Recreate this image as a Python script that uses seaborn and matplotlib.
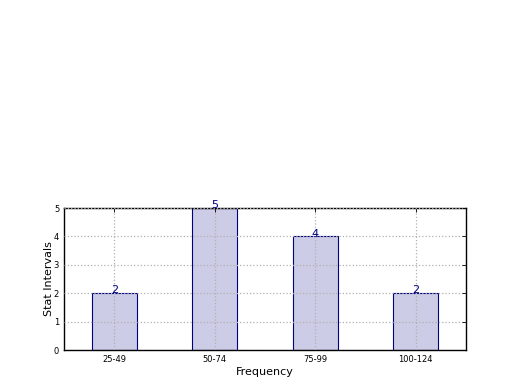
import matplotlib
matplotlib.use("Agg")
import matplotlib.pyplot as plt
import seaborn as sns
import pandas as pd

categories = ["25-49", "50-74", "75-99", "100-124"]
values = [2, 5, 4, 2]

sns.set_style("white")
plt.rcParams['font.family'] = ['DejaVu Sans']
plt.rcParams['text.color'] = 'black'
plt.rcParams['axes.labelcolor'] = 'black'
plt.rcParams['xtick.color'] = 'black'
plt.rcParams['ytick.color'] = 'black'

df = pd.DataFrame({"interval": categories, "count": values})

fig = plt.figure(figsize=(5.2, 3.9), dpi=100)
ax = fig.add_axes([64/520, 40/390, 402/520, 142/390])

sns.barplot(data=df, x="interval", y="count", ax=ax, color="#ccccE6",
            edgecolor="navy", linewidth=0.8, width=0.45, saturation=1)

for i, v in enumerate(values):
    ax.text(i, v + 0.1, str(v), ha="center", va="center", color="navy", fontsize=8)

ax.set_xlim(-0.5, 3.5)
ax.set_ylim(0, 5)
ax.set_yticks([0, 1, 2, 3, 4, 5])
ax.grid(True, linestyle=":", color="#b0b0b0", linewidth=0.9)
ax.set_axisbelow(False)
for s in ax.spines.values():
    s.set_color("black")
    s.set_linewidth(1)
ax.tick_params(direction="in", top=True, right=True, labelsize=6, length=3, width=0.6,
               colors="black")
ax.set_xlabel("Frequency", fontsize=8, labelpad=2)
ax.set_ylabel("Stat Intervals", fontsize=8, labelpad=0)

fig.savefig("out.png", dpi=100)
